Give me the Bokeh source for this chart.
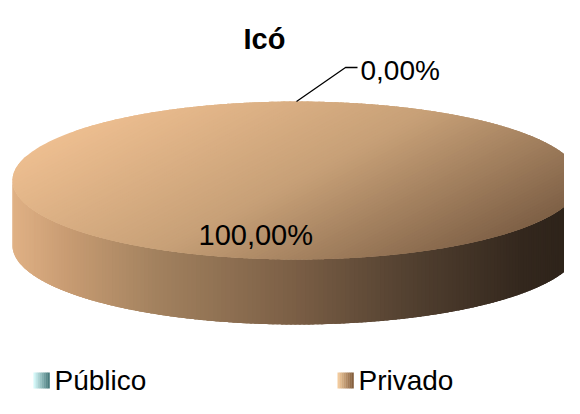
import numpy as np
from bokeh.plotting import figure
from bokeh.models import Range1d, Label
from bokeh.embed import file_html
from bokeh.resources import INLINE
from bokeh.core.properties import value

# ---------------- data ----------------
title_text = "Icó"
categories = ["Público", "Privado"]
values = [0.0, 100.0]
pct_labels = ["0,00%", "100,00%"]

face_stops = {
    "Público": [(0.0, "#C8F4F4"), (0.5, "#8CC8CA"), (1.0, "#4E8080")],
    "Privado": [(0.0, "#EDBE90"), (0.5, "#C7A077"), (1.0, "#7E6046")],
}
side_stops = {
    "Público": [(0.0, "#A8E0E2"), (0.5, "#5A9496"), (1.0, "#1E3436")],
    "Privado": [(0.0, "#E0B185"), (0.1, "#C79B72"), (0.25, "#A3825F"),
                (0.5, "#7A5E45"), (0.7, "#524030"), (0.9, "#33271D"), (1.0, "#2C2219")],
}
legend_stops = {
    "Público": [(0.0, "#D4F8F8"), (1.0, "#4A7C7E")],
    "Privado": [(0.0, "#F2CA9C"), (1.0, "#86603E")],
}


def hex2rgb(h):
    h = h.lstrip("#")
    return np.array([int(h[i:i + 2], 16) for i in (0, 2, 4)], dtype=float)


def interp(stops, t):
    t = min(max(t, 0.0), 1.0)
    for (p0, c0), (p1, c1) in zip(stops[:-1], stops[1:]):
        if t <= p1:
            f = 0 if p1 == p0 else (t - p0) / (p1 - p0)
            c = hex2rgb(c0) * (1 - f) + hex2rgb(c1) * f
            return "#%02x%02x%02x" % tuple(int(round(v)) for v in c)
    return stops[-1][1]


# ---------------- figure ----------------
W, H = 564, 398
p = figure(width=W, height=H, x_range=Range1d(0, W), y_range=Range1d(H, 0),
           output_backend="svg", toolbar_location=None, min_border=0)
p.axis.visible = False
p.grid.visible = False
p.outline_line_color = None
p.background_fill_color = "white"
p.border_fill_color = "white"

CX, CY, RA, RB, DEPTH = 296, 180, 284, 79, 65
total = float(sum(values))
start = -np.pi / 2
angles = []
for v in values:
    a0 = start
    a1 = start + 2 * np.pi * v / total
    angles.append((a0, a1))
    start = a1


def in_slice(theta, a0, a1):
    t = (theta - a0) % (2 * np.pi)
    return t < (a1 - a0) - 1e-12 or (a1 - a0) >= 2 * np.pi - 1e-9


# ---- side (visible lower half) ----
N = 200
th = np.linspace(0, np.pi, N + 1)
dth = th[1] - th[0]
for k, cat in enumerate(categories):
    a0, a1 = angles[k]
    if a1 - a0 <= 0:
        continue
    xs, ys, cs = [], [], []
    for i in range(N):
        t0, t1 = th[i], min(th[i + 1] + 1.5 * dth, np.pi)
        tm = 0.5 * (th[i] + th[i + 1])
        if not in_slice(tm, a0, a1):
            continue
        tt = np.linspace(t0, t1, 4)
        tx = list(CX + RA * np.cos(tt))
        ty = list(CY + RB * np.sin(tt))
        xs.append(tx + tx[::-1])
        ys.append(ty + [y + DEPTH for y in ty[::-1]])
        u = (CX + RA * np.cos(tm) - (CX - RA)) / (2 * RA)
        cs.append(interp(side_stops[cat], u))
    p.patches(xs, ys, fill_color=cs, line_color=None)

# ---- top face (gradient bands) ----
phi = np.deg2rad(28)
NB = 110
for k, cat in enumerate(categories):
    a0, a1 = angles[k]
    if a1 - a0 <= 0:
        continue
    fx, fy, fc = [], [], []
    if a1 - a0 >= 2 * np.pi - 1e-9:
        tb = np.linspace(-1, 1, NB + 1)
        for i in range(NB):
            lo = tb[i]
            hi = min(tb[i + 1] + 0.025, 1.0)
            al1 = np.arccos(hi)
            al0 = np.arccos(max(lo, -1.0))
            arcA = np.linspace(al1, al0, 14)
            arcB = np.linspace(-al0, -al1, 14)
            ang = np.concatenate([arcA, arcB]) + phi
            fx.append(list(CX + RA * np.cos(ang)))
            fy.append(list(CY + RB * np.sin(ang)))
            fc.append(interp(face_stops[cat], (0.5 * (tb[i] + tb[i + 1]) + 1) / 2))
    else:
        ang = np.linspace(a0, a1, 80)
        fx.append([CX] + list(CX + RA * np.cos(ang)))
        fy.append([CY] + list(CY + RB * np.sin(ang)))
        fc.append(interp(face_stops[cat], 0.5))
    p.patches(fx, fy, fill_color=fc, line_color=None)

# ---- labels ----
font = "Liberation Sans"
for k, cat in enumerate(categories):
    a0, a1 = angles[k]
    if values[k] == 0:
        am = 0.5 * (a0 + a1)
        sx, sy = CX + RA * np.cos(am), CY + RB * np.sin(am)
        p.line([sx, 345, 357], [sy, 67, 67], line_color="black", line_width=1.3)
        p.add_layout(Label(x=360, y=70, text=pct_labels[k], text_font=font, text_font_size="28px",
                           text_align="left", text_baseline="alphabetic", text_color="black"))
    else:
        p.add_layout(Label(x=198, y=234, text=pct_labels[k], text_font=font, text_font_size="29px",
                           text_align="left", text_baseline="alphabetic", text_color="black"))

# ---- title ----
p.add_layout(Label(x=264, y=38, text=title_text, text_font=font, text_font_size="29px",
                   text_font_style="bold", text_align="center", text_baseline="alphabetic",
                   text_color="black"))

# ---- legend ----
leg_x = [33, 337]
leg_top = 372
for k, cat in enumerate(categories):
    ns = 8
    lx = [leg_x[k] + j * 16 / ns for j in range(ns)]
    p.quad(left=lx, right=[v + 16 / ns + 0.3 for v in lx], top=[leg_top] * ns, bottom=[leg_top + 16] * ns,
           fill_color=[interp(legend_stops[cat], j / (ns - 1)) for j in range(ns)], line_color=None)
    p.add_layout(Label(x=leg_x[k] + 21, y=leg_top + 8, text=cat, text_font=font, text_font_size="28px",
                       text_align="left", text_baseline="middle", text_color="black"))

open("out.html", "w").write(file_html(p, INLINE))
